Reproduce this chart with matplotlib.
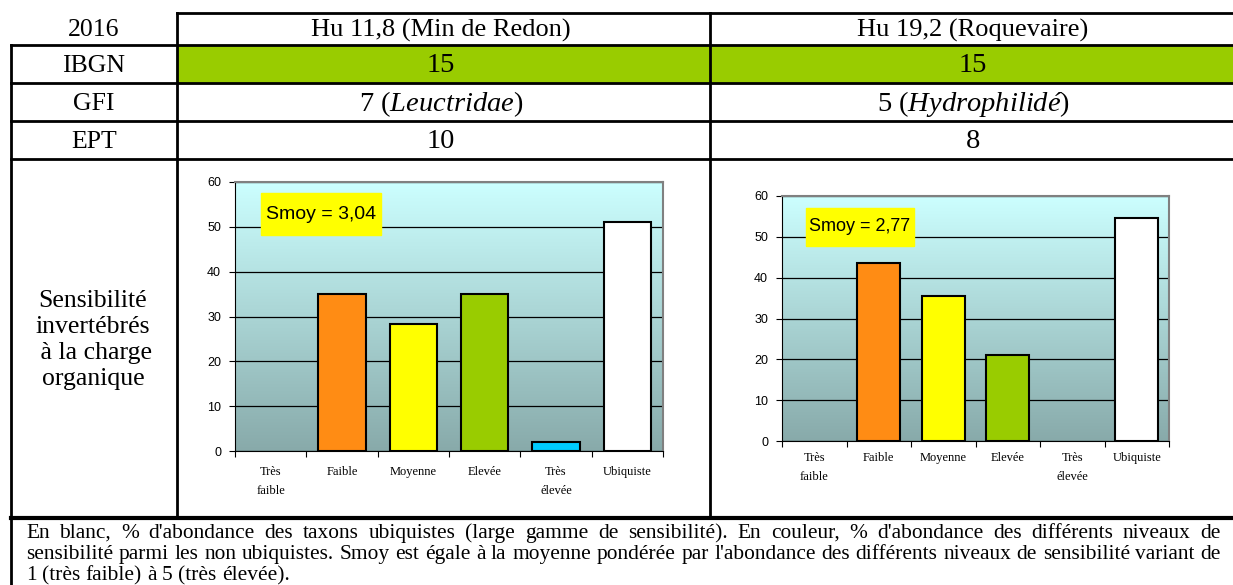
import numpy as np
import matplotlib
matplotlib.use('Agg')
import matplotlib.pyplot as plt
from matplotlib.colors import LinearSegmentedColormap
from matplotlib.patches import Rectangle

#############      Données     ###############
annee = '2016'
stations = ['Hu 11,8 (Min de Redon)', 'Hu 19,2 (Roquevaire)']
lignes = ['IBGN', 'GFI', 'EPT']
ibgn = [15, 15]
gfi = [7, 5]
gfi_taxon = ['Leuctridae', 'Hydrophilidé']
ept = [10, 8]
label_sensib = 'Sensibilité\ninvertébrés\n à la charge\norganique'

categories = ['Très\nfaible', 'Faible', 'Moyenne', 'Elevée', 'Très\nélevée', 'Ubiquiste']
couleurs = ['#FF0000', '#FF8C14', '#FFFF00', '#99CC00', '#00CCFF', '#FFFFFF']
redon = [0, 35, 28.4, 35, 2, 51]
roquevaire = [0, 43.5, 35.4, 21, 0, 54.5]
smoy = ['3,04', '2,77']

note = ["En blanc, % d'abondance des taxons ubiquistes (large gamme de sensibilité). En couleur, % d'abondance des différents niveaux de",
        "sensibilité parmi les non ubiquistes. Smoy est égale à la moyenne pondérée par l'abondance des différents niveaux de sensibilité variant de",
        "1 (très faible) à 5 (très élevée)."]

plt.rcParams['font.family'] = 'Liberation Serif'
plt.rcParams['mathtext.fontset'] = 'custom'
plt.rcParams['mathtext.rm'] = 'Liberation Serif'
plt.rcParams['mathtext.it'] = 'Liberation Serif:italic'

W, H = 1233, 585
fig = plt.figure(figsize=(W / 100, H / 100), dpi=100)

# axe de fond en pixels
bg = fig.add_axes([0, 0, 1, 1])
bg.set_xlim(0, W)
bg.set_ylim(H, 0)
bg.axis('off')

#############      Tableau     ###############
bg.add_patch(Rectangle((177, 45), W - 177, 38, color='#99CC00', zorder=0))
lw = 2
bg.plot([177, W], [13, 13], color='black', lw=lw)
for y in [45, 83, 121, 159]:
    bg.plot([11, W], [y, y], color='black', lw=lw)
bg.plot([11, W], [517.5, 517.5], color='black', lw=3)
bg.plot([11, 11], [45, H], color='black', lw=lw)
bg.plot([177, 177], [13, 517.5], color='black', lw=lw)
bg.plot([710, 710], [13, 517.5], color='black', lw=lw)

col_x = [94, 441, 973]
row_y = [30.5, 66, 104, 142]
bg.text(col_x[0], row_y[0], annee, ha='center', va='center', fontsize=18.5)
for i, s in enumerate(stations):
    bg.text(col_x[i + 1], row_y[0], s, ha='center', va='center', fontsize=19)
for j, lab in enumerate(lignes):
    bg.text(col_x[0], row_y[j + 1], lab, ha='center', va='center', fontsize=18.5)
for i in range(2):
    bg.text(col_x[i + 1], row_y[1], str(ibgn[i]), ha='center', va='center', fontsize=20.5)
    bg.text(col_x[i + 1], row_y[2], '%d ($\\mathit{%s}$)' % (gfi[i], gfi_taxon[i]),
            ha='center', va='center', fontsize=20.5)
    bg.text(col_x[i + 1], row_y[3], str(ept[i]), ha='center', va='center', fontsize=20.5)

bg.text(93, 340, label_sensib, ha='center', va='center', fontsize=18.5, linespacing=1.22)

#############      Graphiques     ###############
cmap = LinearSegmentedColormap.from_list('fond', ['#88AAAA', '#CCFFFF'])


def px_axes(x0, y0, x1, y1):
    return fig.add_axes([x0 / W, 1 - y1 / H, (x1 - x0) / W, (y1 - y0) / H])


def graphique(ax, valeurs, texte, box, fs, lab_pad):
    x = np.arange(len(categories))
    grad = np.linspace(1, 0, 256).reshape(-1, 1)
    ax.imshow(grad, cmap=cmap, extent=(-0.5, 5.5, 0, 60), aspect='auto', zorder=0)
    bords = ['black' if v > 0 else 'none' for v in valeurs]
    ax.bar(x, valeurs, width=0.66, color=couleurs, edgecolor=bords, linewidth=1.5, zorder=3)
    ax.set_xlim(-0.5, 5.5)
    ax.set_ylim(0, 60)
    ax.set_yticks(range(0, 61, 10))
    ax.yaxis.grid(True, color='black', lw=0.9, zorder=1)
    ax.set_axisbelow(True)
    ax.set_xticks(np.arange(-0.5, 6, 1))
    ax.set_xticklabels([])
    ax.set_xticks(x, minor=True)
    ax.set_xticklabels(categories, minor=True, fontsize=9, linespacing=1.75, va='top')
    ax.tick_params(axis='x', which='major', length=4, direction='out')
    ax.tick_params(axis='x', which='minor', length=0, pad=lab_pad)
    ax.tick_params(axis='y', length=4, direction='out', pad=6)
    for t in ax.get_yticklabels():
        t.set_fontfamily('Liberation Sans')
        t.set_fontsize(9)
    ax.spines['top'].set_color('#808080')
    ax.spines['right'].set_color('#808080')
    ax.spines['top'].set_linewidth(1.5)
    ax.spines['right'].set_linewidth(1.5)
    ax.add_patch(Rectangle((box[0], box[1]), box[2] - box[0], box[3] - box[1],
                           transform=ax.transAxes, color='#FFFF00', zorder=4))
    ax.text((box[0] + box[2]) / 2, (box[1] + box[3]) / 2, 'Smoy = ' + texte,
            transform=ax.transAxes, ha='center', va='center', fontsize=fs,
            family='Liberation Sans', zorder=5)


ax1 = px_axes(235, 182, 663, 451)
graphique(ax1, redon, smoy[0], (0.061, 0.803, 0.341, 0.959), 14, 11)
ax2 = px_axes(782, 196, 1169, 441)
graphique(ax2, roquevaire, smoy[1], (0.062, 0.797, 0.340, 0.951), 13, 8)

#############      Note (justifiée)     ###############
fig.canvas.draw()
r = fig.canvas.get_renderer()
x0, x1 = 26, 1221
# taille de police ajustée pour que la 2e ligne tienne juste dans la largeur
essai = bg.text(0, 0, note[1], fontsize=14)
fs_note = min(16, 14 * (x1 - x0 - 8) / essai.get_window_extent(r).width)
essai.remove()
base = [538, 559, 580]
for i, ligne in enumerate(note):
    mots = ligne.split(' ')
    txts = [bg.text(0, base[i], m, fontsize=fs_note, va='baseline') for m in mots]
    larg = [t.get_window_extent(r).width for t in txts]
    if i < len(note) - 1:
        gap = (x1 - x0 - sum(larg)) / (len(mots) - 1)
    else:
        gap = fs_note * 0.35
    x = x0
    for t, w in zip(txts, larg):
        t.set_x(x)
        x += w + gap

fig.savefig('out.png', dpi=100)
